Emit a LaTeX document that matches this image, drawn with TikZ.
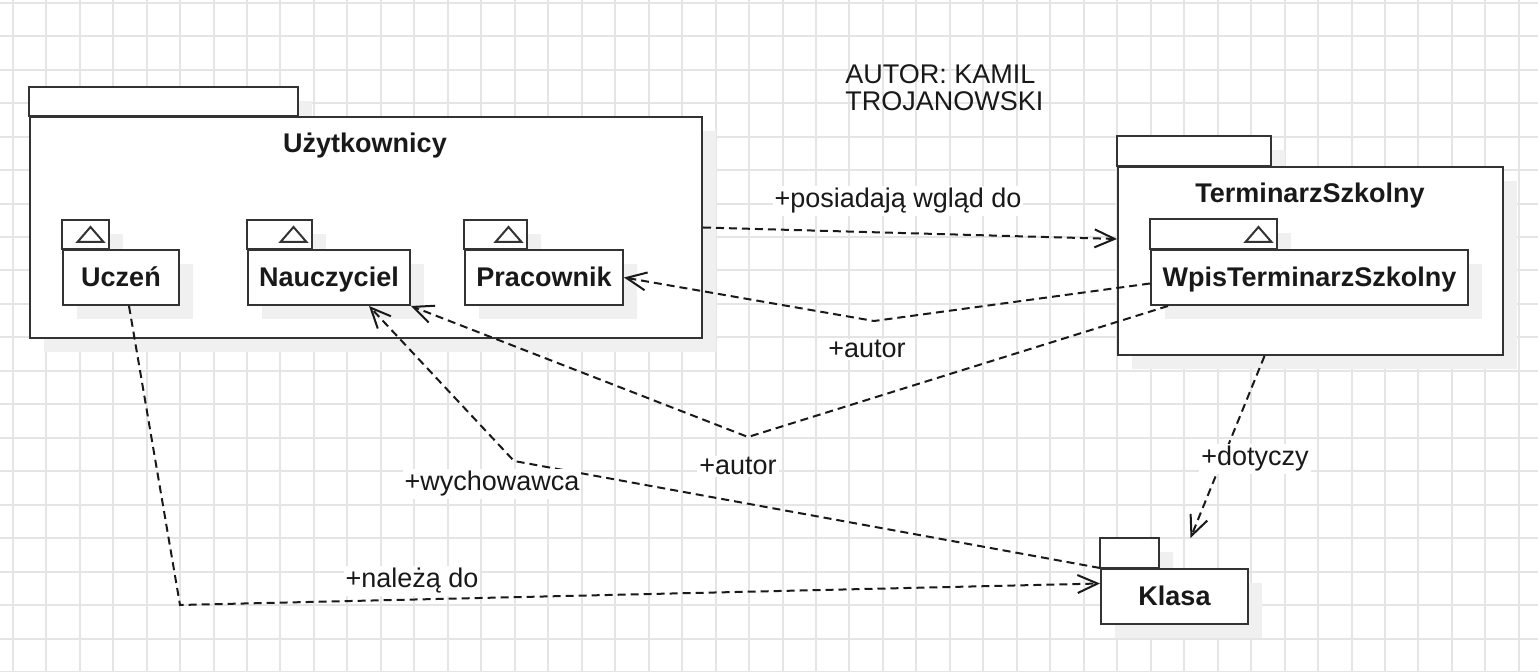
\documentclass[tikz,border=0pt]{standalone}
\usepackage{fontspec}
\setmainfont{Liberation Sans}
\usetikzlibrary{arrows.meta,shadows}
\begin{document}
\begin{tikzpicture}[x=0.5pt,y=-0.5pt,
  every node/.style={font=\fontsize{13.5}{16}\selectfont, text=black!90},
  pkg/.style={draw=black!80, line width=1pt, fill=white,
    drop shadow={shadow xshift=7pt, shadow yshift=-7pt, fill=black!6, opacity=1}},
  pkgbody/.style={pkg, rectangle, anchor=north west, inner sep=0pt, minimum height=27.5pt,
    font=\fontsize{13.5}{16}\selectfont\bfseries, text height=9.5pt, text depth=0pt},
  tabtri/.style={draw=black!80, line width=1pt},
  dep/.style={draw=black!90, line width=1pt, dash pattern=on 4pt off 2.5pt,
    -{Straight Barb[length=10pt,width=9pt]}},
  lbl/.style={fill=white, inner sep=1pt, anchor=base}]
\useasboundingbox (0,0) rectangle (1538,672);
\fill[white] (0,0) rectangle (1538,672);
\foreach \i in {0,...,45}
  \draw[black!10, line width=1pt] (12.7+33.47*\i,0) -- (12.7+33.47*\i,672);
\foreach \j in {0,...,20}
  \draw[black!10, line width=1pt] (0,2.7+33.47*\j) -- (1538,2.7+33.47*\j);

\draw[pkg] (29,116) rectangle ++(269,-29);
\node[pkgbody, minimum width=336pt, minimum height=110.5pt] (uzyt) at (29,116) {};
\node[anchor=base, font=\fontsize{13.5}{16}\selectfont\bfseries] (uzyt-name) at (365,153) {Użytkownicy};
\draw[pkg] (62,249) rectangle ++(47,-29);
\node[pkgbody, minimum width=58pt] (uczen) at (62,249) {Uczeń};
\draw[pkg] (247,249) rectangle ++(65,-29);
\node[pkgbody, minimum width=81pt] (naucz) at (247,249) {Nauczyciel};
\draw[pkg] (464,249) rectangle ++(63,-29);
\node[pkgbody, minimum width=79pt] (prac) at (464,249) {Pracownik};

\draw[pkg] (1117,166) rectangle ++(154,-30);
\node[pkgbody, minimum width=192.5pt, minimum height=94pt] (termin) at (1117,166) {};
\node[anchor=base, font=\fontsize{13.5}{16}\selectfont\bfseries] (termin-name) at (1310,203) {TerminarzSzkolny};
\draw[pkg] (1150,249) rectangle ++(127,-30);
\node[pkgbody, minimum width=158.5pt] (wpis) at (1150,249) {WpisTerminarzSzkolny};

\draw[pkg] (1100,568) rectangle ++(59,-30);
\node[pkgbody, minimum width=73.5pt] (klasa) at (1100,568) {Klasa};

\foreach \tx in {109,312,527,1277}
  \draw[tabtri] (\tx-31.5,242) -- ++(26,0) -- ++(-13,-15) -- cycle;

\node[anchor=north west, align=left, inner sep=0pt, font=\fontsize{13.5}{13.5}\selectfont] (autor) at (845,64) {AUTOR: KAMIL\\TROJANOWSKI};

\coordinate (b1) at (874,321);
\coordinate (b2) at (748,437);
\coordinate (b3) at (514,461);
\coordinate (b4) at (180,605);
\draw[dep] (uzyt.east) -- ([yshift=11pt]termin.west);
\draw[dep] ([yshift=-3pt]wpis.west) -- (b1) -- (prac.east);
\draw[dep] ([xshift=9pt]wpis.south west) -- (b2) -- (naucz.south east);
\draw[dep] (klasa.north west) -- (b3) -- ([xshift=20pt]naucz.south);
\draw[dep] ([xshift=4pt]uczen.south) -- (b4) -- ([yshift=6.5pt]klasa.west);
\draw[dep] ([xshift=-23pt]termin.south) -- ([xshift=8pt,yshift=15pt]klasa.north);

\node[lbl] (l-posiada) at (898,208) {+posiadają wgląd do};
\node[lbl] (l-autor1) at (867,358) {+autor};
\node[lbl] (l-autor2) at (738,475) {+autor};
\node[lbl] (l-wych) at (492,491) {+wychowawca};
\node[lbl] (l-nalez) at (412,588) {+należą do};
\node[lbl] (l-dot) at (1255,466) {+dotyczy};
\end{tikzpicture}
\end{document}
